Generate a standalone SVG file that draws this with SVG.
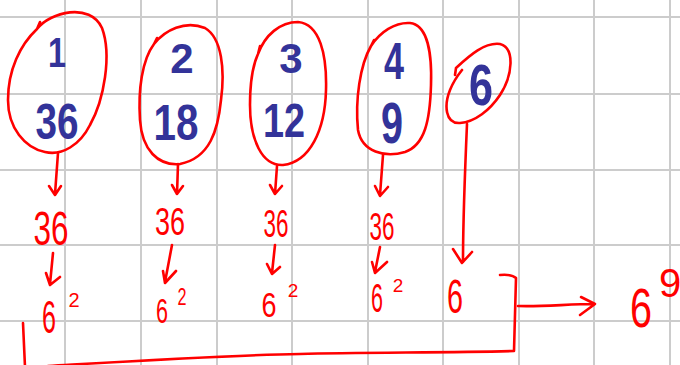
<svg xmlns="http://www.w3.org/2000/svg" width="680" height="365" viewBox="0 0 680 365">
<style>
.grid line{stroke:#cccccc;stroke-width:2}
.ink{fill:none;stroke:#ff0000;stroke-width:2.6;stroke-linecap:round;stroke-linejoin:round}
.blue{font-family:"Liberation Sans",Arial,sans-serif;font-weight:bold;fill:#333399;text-anchor:middle}
.red{font-family:"Liberation Sans",Arial,sans-serif;fill:#ff0000;text-anchor:middle}
</style>
<rect width="680" height="365" fill="#ffffff"/>
<g class="grid">
<line x1="65" y1="0" x2="65" y2="365"/><line x1="141" y1="0" x2="141" y2="365"/><line x1="217" y1="0" x2="217" y2="365"/><line x1="292" y1="0" x2="292" y2="365"/><line x1="368" y1="0" x2="368" y2="365"/><line x1="443" y1="0" x2="443" y2="365"/><line x1="519" y1="0" x2="519" y2="365"/><line x1="594" y1="0" x2="594" y2="365"/><line x1="670" y1="0" x2="670" y2="365"/>
<line x1="0" y1="17" x2="680" y2="17"/><line x1="0" y1="94" x2="680" y2="94"/><line x1="0" y1="170" x2="680" y2="170"/><line x1="0" y1="245" x2="680" y2="245"/><line x1="0" y1="321" x2="680" y2="321"/>
</g>
<g id="node-1-36">
<path class="ink" d="M 40 22 L 37 29 C 50 12, 90 2, 102 28 C 112 55, 104 100, 90 125 C 80 145, 62 156, 45 152 C 25 148, 8 128, 8 100 C 8 70, 20 45, 37 29"/>
<text class="blue" x="57" y="67" font-size="42" textLength="18" lengthAdjust="spacingAndGlyphs">1</text>
<text class="blue" x="57" y="139" font-size="50" textLength="43" lengthAdjust="spacingAndGlyphs">36</text>
</g>
<g id="node-2-18">
<path class="ink" d="M 157 38 L 154 44 C 165 30, 185 20, 205 28 C 222 38, 225 70, 221 100 C 218 130, 210 158, 180 164 C 158 166, 142 150, 140 120 C 138 90, 142 60, 154 44"/>
<text class="blue" x="182" y="73" font-size="42">2</text>
<text class="blue" x="176" y="140" font-size="50" textLength="45" lengthAdjust="spacingAndGlyphs">18</text>
</g>
<g id="node-3-12">
<path class="ink" d="M 260 46 L 258 54 C 265 35, 280 22, 298 22 C 320 24, 327 55, 326 90 C 325 130, 310 162, 283 165 C 262 166, 250 140, 250 105 C 250 80, 253 65, 258 54"/>
<text class="blue" x="291" y="73" font-size="42">3</text>
<text class="blue" x="284" y="137" font-size="48" textLength="42" lengthAdjust="spacingAndGlyphs">12</text>
</g>
<g id="node-4-9">
<path class="ink" d="M 374 40 L 371 46 C 380 32, 395 22, 410 23 C 428 25, 432 55, 431 85 C 430 120, 425 145, 405 152 C 385 158, 362 152, 358 130 C 355 100, 360 65, 371 46"/>
<text class="blue" x="394" y="79" font-size="52" textLength="20" lengthAdjust="spacingAndGlyphs">4</text>
<text class="blue" x="392" y="143" font-size="58" textLength="22" lengthAdjust="spacingAndGlyphs">9</text>
</g>
<g id="node-6">
<path class="ink" d="M 455 75 L 456 68 C 470 55, 485 42, 500 44 C 515 48, 513 75, 500 95 C 490 110, 475 122, 460 123 C 445 124, 444 105, 450 90 C 454 80, 458 75, 462 70"/>
<text class="blue" x="481" y="105" font-size="58" textLength="24" lengthAdjust="spacingAndGlyphs">6</text>
</g>
<g id="values">
<text class="red" x="51" y="245" font-size="48" textLength="35" lengthAdjust="spacingAndGlyphs">36</text>
<text class="red" x="49" y="333" font-size="46" textLength="14" lengthAdjust="spacingAndGlyphs">6</text>
<text class="red" x="74" y="307" font-size="20">2</text>
<text class="red" x="162" y="323" font-size="35" textLength="12" lengthAdjust="spacingAndGlyphs">6</text>
<text class="red" x="170" y="235" font-size="38" textLength="30" lengthAdjust="spacingAndGlyphs">36</text>
<text class="red" x="182" y="305" font-size="24" textLength="9" lengthAdjust="spacingAndGlyphs">2</text>
<text class="red" x="276" y="237" font-size="38" textLength="25" lengthAdjust="spacingAndGlyphs">36</text>
<text class="red" x="269" y="317" font-size="35" textLength="15" lengthAdjust="spacingAndGlyphs">6</text>
<text class="red" x="293" y="297" font-size="19">2</text>
<text class="red" x="382" y="240" font-size="38" textLength="25" lengthAdjust="spacingAndGlyphs">36</text>
<text class="red" x="377" y="312" font-size="40" textLength="12" lengthAdjust="spacingAndGlyphs">6</text>
<text class="red" x="398" y="292" font-size="19">2</text>
<text class="red" x="455" y="313" font-size="48" textLength="16" lengthAdjust="spacingAndGlyphs">6</text>
<text class="red" x="641" y="327" font-size="55" textLength="22" lengthAdjust="spacingAndGlyphs">6</text>
<text class="red" x="670" y="297" font-size="40" text-anchor="start">9</text>
</g>
<g id="connectors" class="ink">
<path d="M 58 153 L 55 194 M 49 186 L 55 195 L 61 186"/>
<path d="M 178 164 L 177 194 M 172 185 L 177 194 L 183 186"/>
<path d="M 277 166 L 275 194 M 270 185 L 275 194 L 282 186"/>
<path d="M 383 155 L 380 195 M 375 186 L 380 196 L 388 187"/>
<path d="M 467 124 C 465 170, 463 220, 463 262 M 453 249 L 462 263 L 472 252"/>
<path d="M 53 253 L 50 284 M 46 273 L 50 285 L 60 277"/>
<path d="M 172 245 L 165 282 M 163 271 L 165 283 L 176 271"/>
<path d="M 275 245 L 272 273 M 267 264 L 272 274 L 280 267"/>
<path d="M 380 247 L 375 272 M 372 262 L 375 273 L 387 262"/>
<path d="M 500 275 Q 512 274 516 278 L 514 351 C 450 353, 360 352, 300 354 C 230 355, 150 360, 48 366"/>
<path d="M 23 323 L 25 367"/>
<path d="M 518 306 C 540 307, 570 304, 594 304 M 581 297 L 595 304 L 580 315"/>
</g>
</svg>
